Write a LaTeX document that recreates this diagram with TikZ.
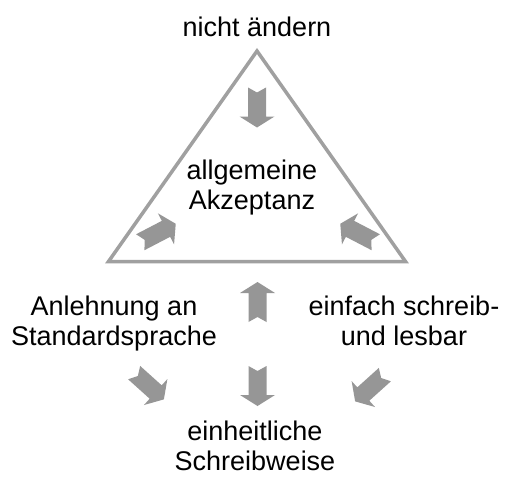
\documentclass[tikz,border=0pt]{standalone}
\usepackage{fontspec}
\setmainfont{Liberation Sans}
\definecolor{pfeilgrau}{RGB}{150,150,150}
\definecolor{rahmengrau}{RGB}{160,160,160}

\begin{document}
\begin{tikzpicture}[x=1pt,y=1pt,line join=miter]
	\tikzstyle{pfeil}=[fill=pfeilgrau,draw=none];
	\tikzstyle{txt}=[align=center,inner sep=0pt,anchor=base,font=\fontsize{27}{30}\selectfont];
	\useasboundingbox (0,0) rectangle (516,491);
	\draw[draw=rahmengrau,line width=3.5pt] (257,440) -- (108.5,229.5) -- (405.5,229.5) -- cycle;
	% Pfeile: Mitte x/y und Richtung
	\foreach \px/\py/\winkel in {257/383.5/-90, 158/258/27.5, 358/258/152.5,
		257.5/189/90, 257.5/105/-90, 149/105/-42, 370/103/-138}
		\fill[pfeil,shift={(\px,\py)},rotate=\winkel] (-20,9) -- (9,9) -- (9,17.5) -- (20,0)
			-- (9,-17.5) -- (9,-9) -- (-20,-9) -- (-15,0) -- cycle;
	% base = letzte Zeile
	\node[txt] (aendern) at (257,454) {nicht ändern};
	\node[txt] (akzeptanz) at (252,282) {allgemeine\\Akzeptanz};
	\node[txt] (standard) at (114,146) {Anlehnung an\\Standardsprache};
	\node[txt] (lesbar) at (404,146) {einfach schreib-\\und lesbar};
	\node[txt] (einheit) at (255,21) {einheitliche\\Schreibweise};
\end{tikzpicture}
\end{document}
